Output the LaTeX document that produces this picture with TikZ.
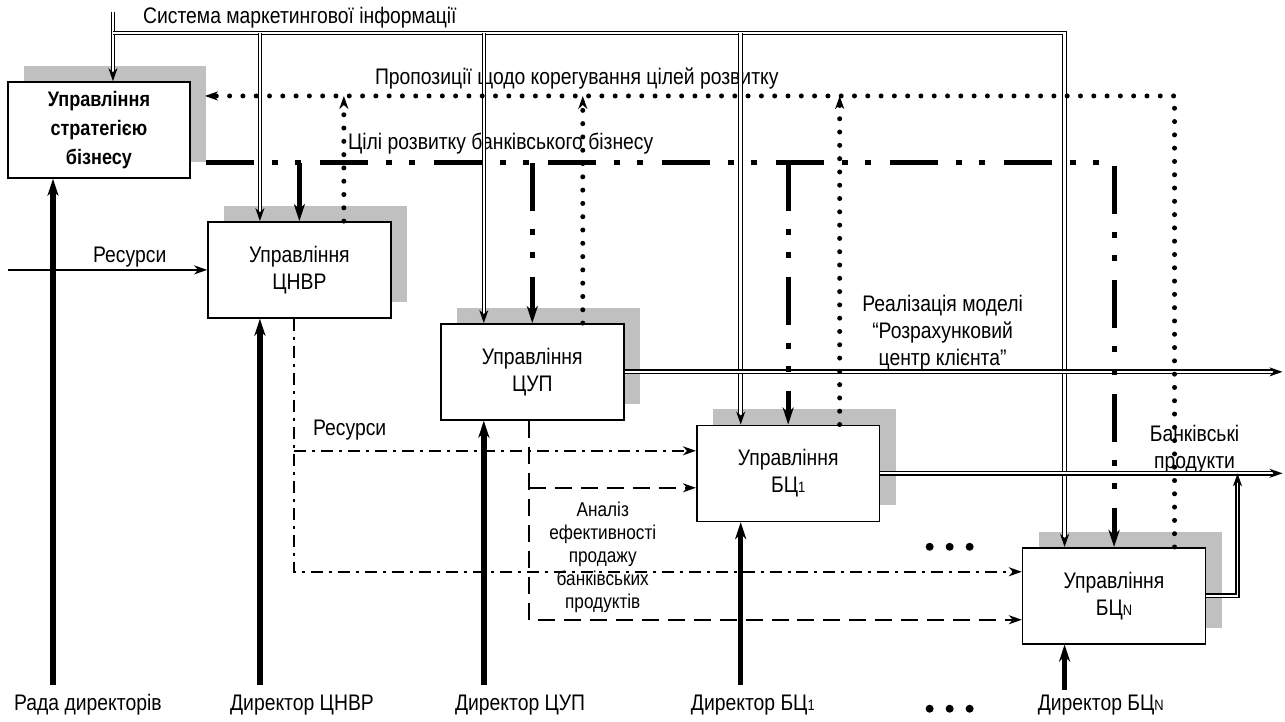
\documentclass[tikz,border=0pt]{standalone}
\usepackage{fontspec}
\setmainfont[FakeStretch=0.86]{Liberation Sans}
\usepackage{tikz}
\usetikzlibrary{arrows.meta,shadows}

\definecolor{shadowgray}{RGB}{192,192,192}
\newcommand{\sbs}[1]{{\fontsize{15}{15}\selectfont #1}}

\begin{document}
\begin{tikzpicture}[x=1pt,y=-1pt,
  box/.style={draw,line width=1.6pt,fill=white,minimum width=183pt,minimum height=96pt,
    align=center,inner sep=0pt,font=\fontsize{22.5}{27}\selectfont,
    drop shadow={shadow xshift=16pt,shadow yshift=16pt,fill=shadowgray,opacity=1}},
  lbl/.style={inner sep=0pt,font=\fontsize{22.5}{27}\selectfont},
  mkt/.style={double,line width=1pt,double distance=2.6pt},
  outp/.style={double,line width=1.6pt,double distance=1.8pt},
  goal/.style={line width=5pt,dash pattern=on 48pt off 18pt on 6pt off 17pt on 6pt off 19pt},
  prop/.style={line width=5pt,line cap=round,dash pattern=on 0pt off 13.3pt},
  res/.style={line width=1.8pt,dash pattern=on 12pt off 6pt on 3pt off 6pt},
  ana/.style={line width=1.8pt,dash pattern=on 17pt off 9pt},
  dir/.style={line width=5.5pt},
  tip/.style={-{Stealth[length=13pt,width=9pt,inset=4pt]}},
  bigtip/.style={-{Stealth[length=17pt,width=11pt,inset=5pt]}}]
\fill[white] (0,0) rectangle (1285,722);

% boxes
\node[box,minimum width=182pt,font=\fontsize{21}{29}\selectfont\bfseries] (S) at (99,130) {Управління\\стратегією\\бізнесу};
\node[box] (cnvr) at (299.5,270) {Управління\\ЦНВР};
\node[box] (cup) at (532.5,372) {Управління\\ЦУП};
\node[box] (bc1) at (788.5,473.5) {Управління\\БЦ\sbs{1}};
\node[box] (bcn) at (1114.5,596) {Управління\\БЦ\sbs{N}};

% labels
\node[lbl,anchor=west] (lmkt) at (143,18) {Система маркетингової інформації};
\node[lbl,anchor=west] (lprop) at (375,79) {Пропозиції щодо корегування цілей розвитку};
\node[lbl,anchor=west] (lgoal) at (348,144) {Цілі розвитку банківського бізнесу};
\node[lbl,anchor=west] (lres1) at (93,257) {Ресурси};
\node[lbl,anchor=west] (lres2) at (313,430) {Ресурси};
\node[lbl,align=center,font=\fontsize{20}{23}\selectfont] (lana) at (603,558) {Аналіз\\ефективності\\продажу\\банківських\\продуктів};
\node[lbl,align=center] (lreal) at (943,333) {Реалізація моделі\\“Розрахунковий\\центр клієнта”};
\node[lbl,align=center] (lprod) at (1195,449) {Банківські\\продукти};
\node[lbl,anchor=west] (drada) at (14,705) {Рада директорів};
\node[lbl,anchor=west] (dcnvr) at (230,705) {Директор ЦНВР};
\node[lbl,anchor=west] (dcup) at (455,705) {Директор ЦУП};
\node[lbl,anchor=west] (dbc1) at (691,705) {Директор БЦ\sbs{1}};
\node[lbl,anchor=west] (dbcn) at (1038,705) {Директор БЦ\sbs{N}};

% marketing information
\coordinate (mtop) at (113,12);
\coordinate (mbus) at (113,33);
\coordinate (mend) at (1065,33);
\draw[mkt,tip] (mtop) -- (mtop |- S.north);
\draw[mkt,tip] (mbus) -- (mend) -- (mend |- bcn.north);
\foreach \x/\b in {260/cnvr,484/cup,741/bc1}
  \draw[mkt,tip] (\x,33) -- (\x,33 |- \b.north);

% outputs
\coordinate (oend) at (1283,0);
\draw[outp,tip] (cup.east) -- (cup.east -| oend);
\draw[outp,tip] (bc1.east) -- (bc1.east -| oend);
\draw[outp,tip] (bcn.east) -| (1238,0 |- bc1.east);

% goals
\coordinate (gl) at (206,163);
\draw[goal,bigtip] (gl) -| (bcn.north);
\foreach \b in {cnvr,cup,bc1}
  \draw[goal,bigtip] (\b.north |- gl) -- (\b.north);

% proposals
\coordinate (pl) at (205,96);
\draw[prop,tip] (1175,0 |- bcn.north) |- (pl);
\foreach \x/\b in {344/cnvr,583/cup,840/bc1}
  \draw[prop,tip] (\x,0 |- \b.north) -- (\x,96);

% resources
\draw[line width=1.6pt,tip] (8,0 |- cnvr.west) -- (cnvr.west);
\draw[res,tip] (294,0 |- cnvr.south) |- (bcn.west |- 0,572);
\draw[res,tip] (294,451) -- (bc1.west |- 0,451);

% analysis
\draw[ana,tip] (529,0 |- cup.south) |- (bcn.west |- 0,620);
\draw[ana,tip] (529,488) -- (bc1.west |- 0,488);

% directors
\foreach \x/\b in {53/S,260/cnvr,484/cup,741/bc1}
  \draw[dir,bigtip] (\x,685) -- (\x,0 |- \b.south);
\draw[dir,bigtip] (1065,690) -- (1065,0 |- bcn.south);

% dots
\foreach \x in {930,950,970} {
  \fill (\x,547) circle (4);
  \fill (\x,709) circle (4);
}
\end{tikzpicture}
\end{document}
